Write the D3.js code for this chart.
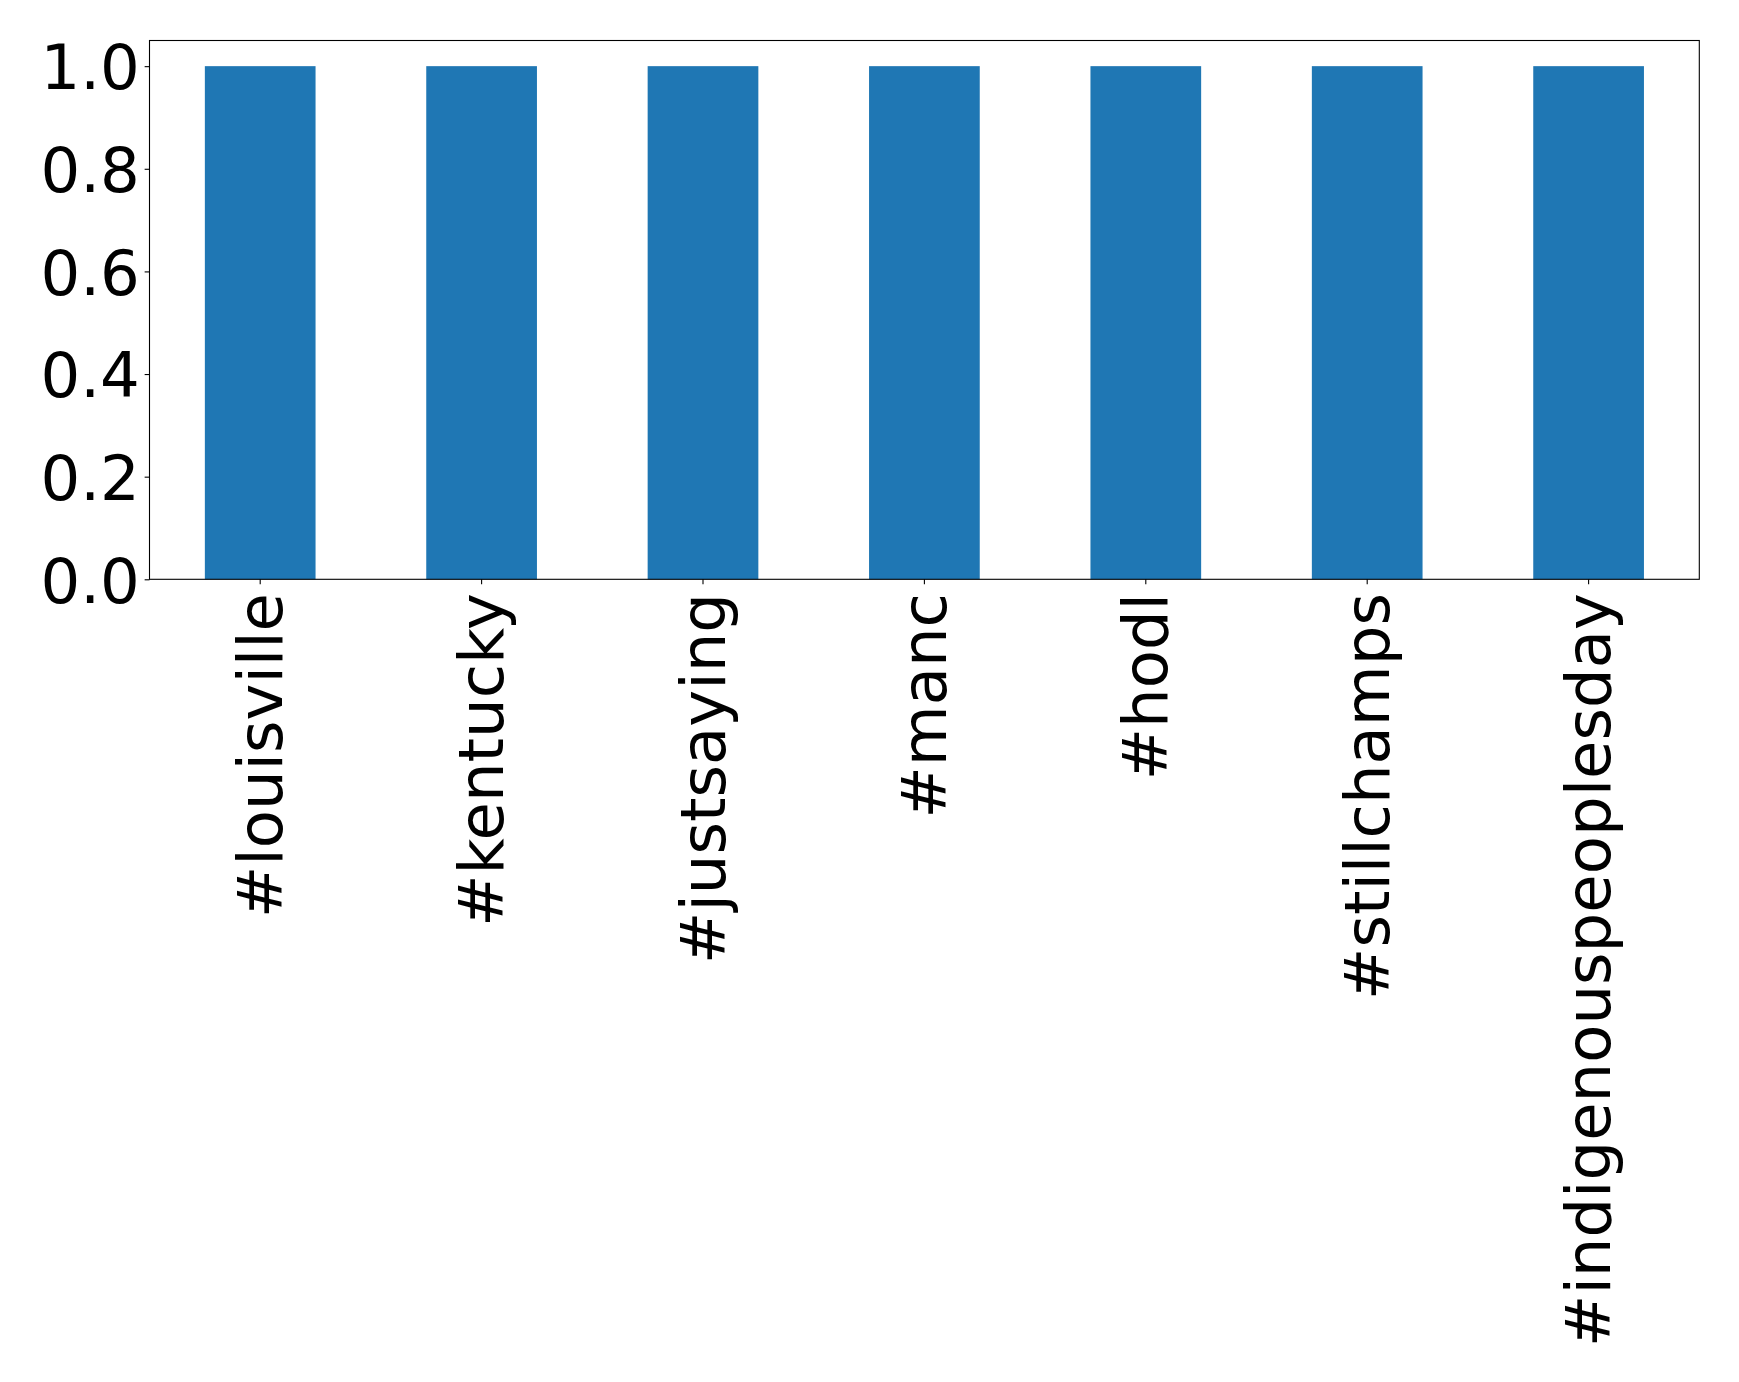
<!DOCTYPE html>
<html>
<head>
<meta charset="utf-8">
<script src="https://cdn.jsdelivr.net/npm/d3@7"></script>
<style>
  html, body { margin: 0; padding: 0; background: #fff; }
  svg { display: block; }
</style>
</head>
<body>
<svg id="chart" width="1739" height="1382"></svg>
<script>
const categories = ["#louisville", "#kentucky", "#justsaying", "#manc", "#hodl", "#stillchamps", "#indigenouspeoplesday"];
const values = [1, 1, 1, 1, 1, 1, 1];
const yTicks = [0, 0.2, 0.4, 0.6, 0.8, 1.0];

(function () {
const plotLeft = 149.5, plotRight = 1699.3, plotTop = 40.5, plotBottom = 579.3;
const fontSize = 62.5;
const tickLen = 4.86, pad = 4.86;

const svg = d3.select("#chart");

const x = d3.scaleBand().domain(categories).range([plotLeft, plotRight]).paddingInner(0.5).paddingOuter(0.25);
const y = d3.scaleLinear().domain([0, 1.05]).range([plotBottom, plotTop]);

// bars
svg.append("g").selectAll("rect").data(categories).join("rect")
  .attr("x", d => x(d))
  .attr("width", x.bandwidth())
  .attr("y", (d, i) => y(values[i]))
  .attr("height", (d, i) => y(0) - y(values[i]))
  .attr("fill", "#1f77b4");

// frame
svg.append("rect")
  .attr("x", plotLeft).attr("y", plotTop)
  .attr("width", plotRight - plotLeft).attr("height", plotBottom - plotTop)
  .attr("fill", "none").attr("stroke", "#000").attr("stroke-width", 1.1);

// y axis
const yAxis = d3.axisLeft(y).tickValues(yTicks).tickFormat(d3.format(".1f"))
  .tickSize(tickLen).tickPadding(pad);
const gy = svg.append("g").attr("transform", `translate(${plotLeft},0)`).call(yAxis);
gy.select(".domain").remove();
gy.selectAll(".tick line").attr("stroke", "#000").attr("stroke-width", 1.1);
gy.selectAll(".tick text")
  .attr("font-family", "DejaVu Sans")
  .attr("font-size", fontSize)
  .attr("fill", "#000")
  .attr("dy", "0.364em");

// x axis
const xAxis = d3.axisBottom(x).tickSize(tickLen).tickPadding(pad);
const gx = svg.append("g").attr("transform", `translate(0,${plotBottom})`).call(xAxis);
gx.select(".domain").remove();
gx.selectAll(".tick line").attr("stroke", "#000").attr("stroke-width", 1.1);
gx.selectAll(".tick text")
  .attr("font-family", "DejaVu Sans")
  .attr("font-size", fontSize)
  .attr("fill", "#000")
  .attr("text-anchor", "end")
  .attr("x", 0).attr("y", 0)
  .attr("dy", "0.346em")
  .attr("transform", `translate(0,${tickLen + pad + 4}) rotate(-90)`);
})();
</script>
</body>
</html>
